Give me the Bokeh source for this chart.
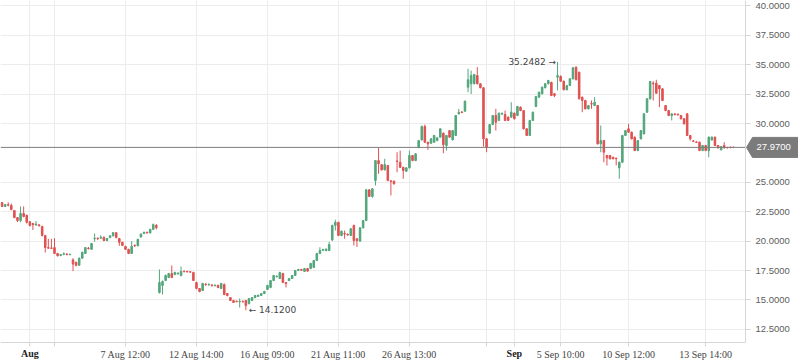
from bokeh.plotting import figure
from bokeh.models import Range1d, FixedTicker, NumeralTickFormatter, Grid
from bokeh.core.properties import value
from bokeh.embed import file_html
from bokeh.resources import INLINE

# ---- data (bar index = position on the time scale) ----
opens = [
    23.28, 22.94, 23.10, 23.03, 22.60, 22.00, 21.75, 22.35, 22.20, 21.65,
    21.50, 21.38, 21.38, 21.25, 20.48, 19.45, 19.42, 19.45, 18.95, 18.78,
    18.88, 18.90, 18.85, 18.40, 18.20, 17.95, 18.55, 18.95, 19.40, 19.30,
    20.20, 20.25, 20.25, 20.32, 20.05, 20.30, 20.45, 20.72, 20.22, 19.90,
    19.55, 19.30, 18.95, 19.65, 19.60, 20.35, 20.65, 20.75, 20.70, 21.00,
    21.33,
    15.63, 16.23, 16.65, 16.91, 17.25, 17.16, 17.22, 17.08, 17.44, 17.42,
    17.40, 17.33, 16.48, 15.97, 15.80, 16.33, 16.29, 16.26, 16.21, 16.23,
    15.97, 16.31, 15.54, 15.20, 14.95, 14.89, 14.84, 14.88, 14.95, 14.69,
    14.95, 15.20, 15.30, 15.38, 15.54, 15.89, 16.06, 16.65, 16.97, 16.82,
    17.25, 16.48, 16.65, 16.82, 17.08, 17.50, 17.59, 17.42, 17.67, 17.67,
    17.76, 18.35, 18.95, 19.22, 19.20, 19.20, 20.11, 21.33, 21.60, 20.48,
    20.65, 20.58, 20.48, 21.33, 20.20, 20.00, 21.13, 21.75, 24.36, 23.80,
    25.15, 26.85, 26.50, 26.06, 26.43, 25.12, 25.10, 26.82, 26.70, 26.28,
    25.94, 26.23, 27.28, 26.85, 27.98, 28.61, 29.74, 28.41, 28.33, 28.41,
    28.55, 28.84, 29.18, 28.13, 29.40, 28.61, 28.98, 30.82, 30.98, 31.05,
    33.09, 33.38, 33.38, 34.08, 33.38, 33.04, 28.70, 29.18, 29.91, 30.68,
    30.26, 30.80, 30.77, 30.54, 30.54, 30.88, 30.68, 31.39, 31.10, 29.55,
    28.98, 30.26, 31.45, 32.24, 32.53, 33.04, 33.38, 33.50, 32.53, 33.94,
    34.00, 33.60, 32.87, 33.23, 33.80, 34.79, 34.36, 32.24, 31.96, 31.25,
    31.70, 31.53, 31.53, 28.27, 28.55, 27.28, 27.28, 27.13, 27.05, 26.23,
    26.71, 28.98, 29.55, 29.26, 28.84, 27.70, 28.70, 29.12, 30.96, 32.10,
    33.43, 33.43, 33.23, 32.95, 31.53, 31.10, 30.68, 30.80, 30.78, 30.68,
    30.40, 30.82, 28.98, 28.52, 28.43, 28.41, 27.70, 28.13, 27.70, 28.60,
    28.84, 28.13, 27.76, 28.13, 27.96, 27.99, 27.99,
]
highs = [
    23.32, 23.15, 23.30, 23.20, 22.65, 22.05, 22.95, 22.95, 22.25, 21.70,
    21.55, 21.70, 21.45, 21.30, 20.50, 20.20, 20.20, 20.25, 19.00, 18.90,
    19.05, 18.98, 18.92, 18.55, 18.25, 18.60, 19.10, 19.50, 19.50, 19.85,
    20.65, 20.30, 20.50, 20.40, 20.25, 20.50, 20.78, 20.75, 20.28, 19.95,
    19.60, 19.35, 20.00, 19.70, 20.20, 20.65, 20.80, 20.80, 21.05, 21.50,
    21.45,
    17.59, 16.65, 17.15, 17.30, 17.93, 17.40, 17.35, 17.84, 17.50, 17.48,
    17.46, 17.40, 16.55, 16.00, 16.45, 16.45, 16.40, 16.35, 16.32, 16.30,
    16.45, 16.40, 15.58, 15.25, 15.00, 14.95, 15.12, 14.95, 15.00, 15.16,
    15.25, 15.42, 15.45, 15.58, 15.78, 16.28, 16.70, 17.12, 17.08, 17.40,
    17.30, 16.52, 16.86, 17.12, 17.55, 17.64, 17.64, 17.72, 17.72, 18.15,
    18.40, 19.00, 19.48, 19.35, 19.38, 19.94, 21.40, 21.82, 21.65, 20.90,
    20.90, 20.65, 21.10, 21.40, 20.25, 21.18, 21.80, 24.42, 24.42, 24.50,
    26.90, 27.93, 26.55, 27.00, 26.48, 25.20, 25.15, 27.56, 27.70, 26.32,
    26.28, 27.70, 27.32, 27.48, 28.60, 29.83, 29.91, 28.45, 28.75, 29.03,
    28.83, 29.60, 29.23, 29.03, 29.45, 29.45, 30.73, 31.25, 31.05, 31.95,
    34.65, 34.50, 34.22, 34.79, 33.43, 33.08, 28.75, 29.96, 30.73, 31.25,
    30.93, 30.95, 31.10, 30.60, 31.81, 30.93, 31.50, 31.44, 31.15, 29.60,
    30.31, 31.01, 32.35, 32.71, 33.14, 33.43, 33.71, 33.55, 32.58, 35.2482,
    34.10, 33.65, 33.28, 33.85, 34.79, 34.85, 34.41, 32.29, 32.01, 31.58,
    31.96, 32.24, 31.58, 29.83, 28.60, 27.33, 27.33, 27.18, 27.10, 26.76,
    29.03, 29.45, 29.97, 29.31, 28.89, 28.60, 29.45, 30.87, 32.15, 33.62,
    33.60, 33.72, 33.28, 33.00, 31.58, 31.15, 30.87, 30.90, 30.85, 30.73,
    30.45, 30.87, 29.03, 28.60, 28.50, 28.46, 28.18, 28.18, 28.89, 28.89,
    28.89, 28.18, 28.09, 28.41, 28.02, 28.03, 28.02,
]
lows = [
    22.90, 22.90, 22.95, 22.62, 21.95, 21.62, 21.60, 22.02, 21.50, 21.25,
    20.95, 21.30, 21.25, 20.40, 19.03, 19.35, 19.35, 18.90, 18.70, 18.72,
    18.80, 18.80, 18.80, 17.45, 17.85, 17.90, 18.50, 18.90, 19.30, 19.25,
    19.95, 20.10, 20.20, 20.00, 20.00, 20.25, 20.40, 20.25, 19.60, 19.58,
    19.25, 18.90, 18.90, 19.50, 19.55, 20.30, 20.60, 20.65, 20.65, 20.95,
    21.00,
    15.54, 15.46, 16.60, 16.85, 16.85, 17.10, 17.15, 17.00, 17.35, 17.34,
    17.32, 16.60, 15.90, 15.65, 15.75, 16.20, 16.20, 16.15, 16.15, 16.00,
    15.92, 15.40, 15.30, 14.90, 14.74, 14.80, 14.35, 14.78, 14.12, 14.62,
    14.90, 15.15, 15.25, 15.33, 15.50, 15.85, 16.00, 16.60, 16.92, 16.78,
    16.45, 16.06, 16.60, 16.78, 17.05, 17.46, 17.48, 17.38, 17.40, 17.62,
    17.70, 18.30, 18.90, 19.15, 19.15, 19.15, 20.00, 20.90, 20.42, 20.42,
    20.20, 20.45, 20.42, 19.63, 19.50, 19.95, 21.08, 21.70, 23.75, 23.68,
    24.73, 25.72, 26.00, 26.00, 25.10, 23.88, 24.82, 25.86, 26.22, 25.30,
    25.90, 26.18, 26.80, 26.80, 27.90, 28.55, 28.35, 27.76, 28.28, 28.36,
    28.50, 28.80, 27.47, 27.70, 28.80, 28.56, 28.93, 30.78, 30.88, 31.00,
    32.66, 32.50, 33.33, 33.33, 32.99, 28.04, 27.56, 29.13, 29.86, 29.40,
    30.21, 30.72, 30.21, 30.21, 30.49, 30.35, 30.63, 31.05, 29.50, 28.93,
    28.93, 30.21, 31.40, 32.19, 32.48, 32.99, 33.33, 32.33, 32.24, 32.81,
    33.55, 32.82, 32.82, 33.18, 33.75, 33.67, 32.05, 30.96, 31.20, 31.20,
    31.25, 31.48, 28.22, 27.56, 26.71, 26.43, 26.95, 26.95, 26.43, 25.30,
    26.66, 28.93, 29.21, 28.65, 27.65, 27.65, 28.65, 29.07, 30.91, 32.05,
    31.96, 32.53, 31.39, 31.91, 31.05, 30.63, 30.26, 30.70, 30.68, 30.35,
    29.92, 28.93, 28.55, 28.43, 28.34, 27.65, 27.65, 27.65, 27.13, 28.55,
    28.08, 27.88, 27.71, 27.88, 27.88, 27.90, 27.93,
]
closes = [
    22.94, 23.11, 23.06, 22.69, 22.00, 21.75, 22.35, 22.10, 21.60, 21.33,
    21.40, 21.45, 21.30, 20.48, 19.45, 19.40, 19.38, 18.95, 18.75, 18.86,
    18.93, 18.85, 18.88, 18.05, 17.95, 18.55, 19.05, 19.45, 19.35, 19.80,
    20.25, 20.20, 20.32, 20.05, 20.22, 20.45, 20.72, 20.30, 19.90, 19.63,
    19.30, 18.95, 19.55, 19.60, 20.15, 20.60, 20.75, 20.70, 21.00, 21.40,
    21.15,
    16.48, 16.57, 17.08, 17.25, 16.91, 17.33, 17.27, 17.42, 17.40, 17.38,
    17.36, 16.65, 15.97, 15.72, 16.40, 16.29, 16.33, 16.21, 16.25, 16.06,
    16.40, 15.46, 15.38, 14.95, 14.78, 14.85, 14.88, 14.84, 14.52, 15.12,
    15.20, 15.38, 15.40, 15.54, 15.72, 16.23, 16.65, 17.08, 17.02, 17.33,
    16.48, 16.40, 16.82, 17.08, 17.50, 17.59, 17.52, 17.67, 17.45, 18.10,
    18.35, 18.95, 19.20, 19.29, 19.31, 19.71, 21.33, 21.60, 20.48, 20.84,
    20.60, 20.52, 21.05, 20.05, 20.05, 21.13, 21.75, 24.36, 23.80, 24.45,
    26.85, 26.57, 26.06, 26.50, 25.15, 25.08, 24.87, 26.77, 26.28, 26.00,
    26.23, 27.28, 26.85, 27.42, 28.55, 29.74, 28.41, 28.27, 28.70, 28.98,
    28.78, 29.55, 28.21, 28.98, 28.84, 29.40, 30.68, 30.96, 30.94, 31.90,
    33.72, 34.08, 34.17, 33.38, 33.04, 28.70, 27.98, 29.91, 30.68, 30.11,
    30.88, 30.85, 30.26, 30.26, 30.96, 30.40, 31.45, 31.10, 29.55, 28.98,
    30.26, 30.96, 32.30, 32.66, 33.09, 33.38, 33.66, 32.38, 32.38, 34.08,
    33.60, 32.87, 33.23, 33.80, 34.74, 33.72, 32.10, 31.96, 31.25, 31.53,
    31.65, 31.81, 28.27, 28.55, 27.56, 27.08, 27.00, 27.00, 27.00, 26.71,
    28.98, 29.40, 29.26, 28.70, 27.70, 28.55, 29.40, 30.82, 32.10, 33.57,
    33.38, 32.58, 32.95, 31.96, 31.10, 30.68, 30.82, 30.75, 30.73, 30.40,
    29.97, 28.98, 28.70, 28.48, 28.39, 27.70, 28.13, 27.70, 28.84, 28.84,
    28.13, 27.93, 28.04, 27.93, 27.93, 27.95, 27.97,
]

tick_idx = [9, 17, 40, 63, 86, 109, 132, 157, 166, 181, 203, 228]
tick_labels = ["Aug", "", "7 Aug 12:00", "12 Aug 14:00", "16 Aug 09:00",
               "21 Aug 11:00", "26 Aug 13:00", "", "Sep", "5 Sep 10:00",
               "10 Sep 12:00", "13 Sep 14:00"]
month_labels = ["Aug", "Sep"]
y_ticks = [12.5, 15.0, 17.5, 20.0, 22.5, 25.0, 30.0, 32.5, 35.0, 37.5, 40.0]

UP = "#53a77c"
DOWN = "#e05252"
GRID = "#ececec"
AXIS = "#d6d6d6"

# ---- layout: the frame fills the canvas, axes are pinned at the chart edges ----
W, H = 798, 363
CHART_W, CHART_H = 745, 342
X0, X1 = -0.5, 240.9          # visible bar range of the chart area
Y0, Y1 = 11.38, 40.46         # visible price range of the chart area
ux = (X1 - X0) / CHART_W
uy = (Y1 - Y0) / CHART_H
XR = X0 + W * ux
YB = Y1 - H * uy

n = len(closes)
idx = list(range(n))
colors = [UP if c >= o else DOWN for o, c in zip(opens, closes)]
tops = [max(o, c) for o, c in zip(opens, closes)]
bots = [min(o, c) for o, c in zip(opens, closes)]

p = figure(width=W, height=H,
           x_range=Range1d(X0, XR), y_range=Range1d(YB, Y1),
           output_backend="svg", toolbar_location=None,
           x_axis_location="below", y_axis_location="right",
           min_border_left=0, min_border_top=0,
           min_border_right=0, min_border_bottom=0)
p.outline_line_color = None
p.background_fill_color = "white"
p.border_fill_color = "white"

# grids limited to the chart area
p.xgrid.ticker = FixedTicker(ticks=tick_idx)
p.ygrid.ticker = FixedTicker(ticks=y_ticks)
if "cross_bounds" in Grid.properties():
    p.xgrid.cross_bounds = (Y0, Y1)
    p.ygrid.cross_bounds = (X0, X1)
    p.xgrid.grid_line_color = GRID
    p.ygrid.grid_line_color = GRID
else:
    p.xgrid.grid_line_color = None
    p.ygrid.grid_line_color = None
    p.segment(x0=tick_idx, y0=[Y0] * len(tick_idx), x1=tick_idx,
              y1=[Y1] * len(tick_idx), line_color=GRID, line_width=1)
    p.segment(x0=[X0] * len(y_ticks), y0=y_ticks, x1=[X1] * len(y_ticks),
              y1=y_ticks, line_color=GRID, line_width=1)

# candles
p.segment(x0=idx, y0=highs, x1=idx, y1=lows, line_color=colors, line_width=1)
p.vbar(x=idx, top=tops, bottom=bots, width=0.5, fill_color=colors,
       line_color=colors, line_width=1)

# y axis (right edge of the chart)
ya = p.yaxis[0]
ya.fixed_location = X1
ya.bounds = (Y0, Y1)
ya.ticker = FixedTicker(ticks=y_ticks)
ya.formatter = NumeralTickFormatter(format="0.0000")
ya.major_label_text_font = "Liberation Sans"
ya.major_label_text_font_size = "9.5px"
ya.major_label_text_color = "#5d5d5d"
ya.axis_line_color = AXIS
ya.major_tick_line_color = AXIS
ya.major_tick_out = 5
ya.major_tick_in = 0
ya.minor_tick_line_color = None
ya.major_label_standoff = 5

# x axis (bottom edge of the chart)
xa = p.xaxis[0]
xa.fixed_location = Y0
xa.bounds = (X0, X1)
xa.ticker = FixedTicker(ticks=tick_idx)
overrides = {}
for i, lab in zip(tick_idx, tick_labels):
    overrides[i] = "" if lab in month_labels else lab
xa.major_label_overrides = overrides
xa.major_label_text_font = "Liberation Serif"
xa.major_label_text_font_size = "10px"
xa.major_label_text_color = "#444444"
xa.axis_line_color = AXIS
xa.major_tick_line_color = AXIS
xa.major_tick_out = 4
xa.major_tick_in = 0
xa.minor_tick_line_color = None
xa.major_label_standoff = 2

# bold month labels on the time scale
mx = [i for i, lab in zip(tick_idx, tick_labels) if lab in month_labels]
mt = [lab for lab in tick_labels if lab in month_labels]
p.text(x=mx, y=[Y0 - 11 * uy] * len(mx), text=mt,
       text_font=value("Liberation Serif"), text_font_size="10px",
       text_font_style="bold", text_color="#222222",
       text_align="center", text_baseline="middle")

# last price line + tag
last = closes[-1]
p.segment(x0=[X0], y0=[last], x1=[X1], y1=[last], line_color="#7d7d7d",
          line_width=1)
hh = 10 * uy
tag_x = [X1 + 1 * ux, X1 + 7 * ux, XR, XR, X1 + 7 * ux]
tag_y = [last, last + hh, last + hh, last - hh, last - hh]
p.patch(x=tag_x, y=tag_y, fill_color="#7b7b7b", line_color="#7b7b7b")
p.text(x=[X1 + 11 * ux], y=[last], text=[f"{last:.4f}"],
       text_font=value("Liberation Sans"), text_font_size="9.5px",
       text_color="white", text_baseline="middle", text_align="left")

# max / min annotations
imax = max(range(n), key=lambda i: highs[i])
imin = min(range(n), key=lambda i: lows[i])
p.text(x=[imax - 0.5], y=[highs[imax]], text=[f"{highs[imax]:.4f} \u2192"],
       text_font=value("DejaVu Sans"), text_font_size="9px",
       text_color="#444444", text_align="right", text_baseline="middle")
p.text(x=[imin + 0.9], y=[lows[imin]], text=[f"\u2190 {lows[imin]:.4f}"],
       text_font=value("DejaVu Sans"), text_font_size="9px",
       text_color="#444444", text_align="left", text_baseline="middle")

open("out.html", "w").write(file_html(p, INLINE))
